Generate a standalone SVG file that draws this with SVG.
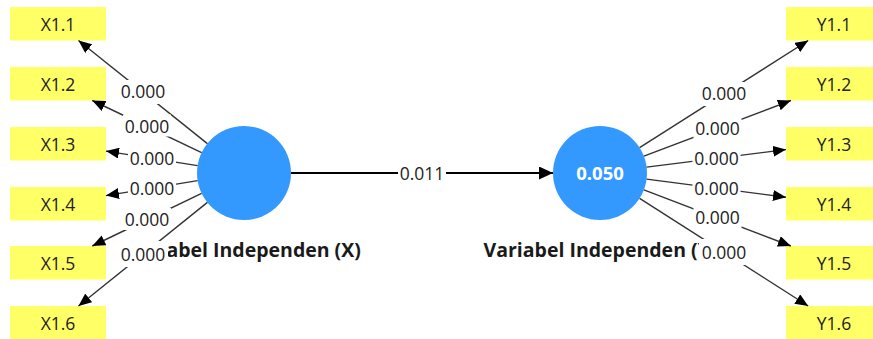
<svg xmlns="http://www.w3.org/2000/svg" width="873" height="339" viewBox="0 0 873 339">
<style>
.ind rect{fill:#FFFF66}
.ind text{font-family:"Open Sans","Noto Sans",sans-serif;font-size:17.5px;fill:#222;text-anchor:middle}
.lv circle{fill:#3399FF}
.title{font-family:"Open Sans","Noto Sans",sans-serif;font-size:19.5px;font-weight:bold;fill:#1a1a1a;text-anchor:middle}
.val{font-family:"Open Sans","Noto Sans",sans-serif;font-size:18.5px;font-weight:bold;fill:#fff;text-anchor:middle}
.edge{stroke:#333;stroke-width:1.4;fill:none;marker-end:url(#ah)}
.main{stroke:#000;stroke-width:2.2;fill:none;marker-end:url(#ahm)}
.lbl rect{fill:#fff}
.lbl text{font-family:"Open Sans","Noto Sans",sans-serif;font-size:17.5px;fill:#222;text-anchor:middle}
</style>
<defs>
<marker id="ah" viewBox="0 0 13 11" markerWidth="13" markerHeight="11" refX="13" refY="5.5" orient="auto" markerUnits="userSpaceOnUse"><path d="M0,0 L13,5.5 L0,11 z" fill="#000"/></marker>
<marker id="ahm" viewBox="0 0 14 13" markerWidth="14" markerHeight="13" refX="14" refY="6.5" orient="auto" markerUnits="userSpaceOnUse"><path d="M0,0 L14,6.5 L0,13 z" fill="#000"/></marker>
</defs>

<g id="X1.1" class="ind"><rect x="10" y="7" width="96" height="33.5"/><text x="58" y="31">X1.1</text></g>
<g id="X1.2" class="ind"><rect x="10" y="67" width="96" height="33.5"/><text x="58" y="91">X1.2</text></g>
<g id="X1.3" class="ind"><rect x="10" y="127" width="96" height="33.5"/><text x="58" y="151">X1.3</text></g>
<g id="X1.4" class="ind"><rect x="10" y="187" width="96" height="33.5"/><text x="58" y="211">X1.4</text></g>
<g id="X1.5" class="ind"><rect x="10" y="246" width="96" height="33.5"/><text x="58" y="270">X1.5</text></g>
<g id="X1.6" class="ind"><rect x="10" y="306" width="96" height="33.5"/><text x="58" y="330">X1.6</text></g>

<g id="Y1.1" class="ind"><rect x="786" y="7" width="96" height="33.5"/><text x="834" y="31">Y1.1</text></g>
<g id="Y1.2" class="ind"><rect x="786" y="67" width="96" height="33.5"/><text x="834" y="91">Y1.2</text></g>
<g id="Y1.3" class="ind"><rect x="786" y="127" width="96" height="33.5"/><text x="834" y="151">Y1.3</text></g>
<g id="Y1.4" class="ind"><rect x="786" y="187" width="96" height="33.5"/><text x="834" y="211">Y1.4</text></g>
<g id="Y1.5" class="ind"><rect x="786" y="246" width="96" height="33.5"/><text x="834" y="270">Y1.5</text></g>
<g id="Y1.6" class="ind"><rect x="786" y="306" width="96" height="33.5"/><text x="834" y="330">Y1.6</text></g>

<g id="X" class="lv"><circle cx="244" cy="173" r="47"/><text class="title" x="244" y="257">Variabel Independen (X)</text></g>
<g id="Y" class="lv"><circle cx="600" cy="173" r="47"/><text class="val" x="600" y="180">0.050</text><text class="title" x="600" y="257">Variabel Independen (Y)</text></g>

<g id="connectors">
<line class="edge" x1="207.4" y1="143.6" x2="78.5" y2="40.5"/>
<line class="edge" x1="201.6" y1="152.6" x2="92.3" y2="100.5"/>
<line class="edge" x1="197.6" y1="165.6" x2="106" y2="151.1"/>
<line class="edge" x1="197.6" y1="180.6" x2="106" y2="195.6"/>
<line class="edge" x1="201.6" y1="193.4" x2="92.3" y2="246"/>
<line class="edge" x1="207.4" y1="202.4" x2="78.5" y2="306"/>
<line class="edge" x1="639.6" y1="147.7" x2="808.2" y2="40.5"/>
<line class="edge" x1="643.9" y1="156.2" x2="790.9" y2="100.5"/>
<line class="edge" x1="646.6" y1="167.1" x2="786" y2="149.6"/>
<line class="edge" x1="646.6" y1="179.1" x2="786" y2="197.2"/>
<line class="edge" x1="643.9" y1="189.8" x2="790.9" y2="246"/>
<line class="edge" x1="639.6" y1="198.3" x2="808.2" y2="306"/>
<line class="main" x1="291" y1="173" x2="553" y2="173"/>
</g>

<g id="labels" class="lbl">
<rect x="119" y="80" width="48" height="24"/><text x="143" y="98">0.000</text>
<rect x="123" y="114.5" width="48" height="22"/><text x="147" y="132.5">0.000</text>
<rect x="128" y="148.5" width="48" height="20"/><text x="152" y="164.5">0.000</text>
<rect x="128" y="178.5" width="48" height="20"/><text x="152" y="194.5">0.000</text>
<rect x="123" y="208" width="48" height="22"/><text x="147" y="226">0.000</text>
<rect x="119" y="241" width="49" height="26"/><text x="143" y="260.5">0.000</text>
<rect x="700" y="82" width="48" height="24"/><text x="724" y="100">0.000</text>
<rect x="693.5" y="116.5" width="48" height="22"/><text x="717.5" y="134.5">0.000</text>
<rect x="692.5" y="148.5" width="48" height="20"/><text x="716.5" y="164.5">0.000</text>
<rect x="692.5" y="178.5" width="48" height="20"/><text x="716.5" y="194.5">0.000</text>
<rect x="693.5" y="206" width="48" height="22"/><text x="717.5" y="224">0.000</text>
<rect x="699" y="239" width="50" height="26"/><text x="724" y="258.5">0.000</text>
<rect x="398" y="161.5" width="48" height="24"/><text x="422" y="179.5">0.011</text>
</g>
</svg>
